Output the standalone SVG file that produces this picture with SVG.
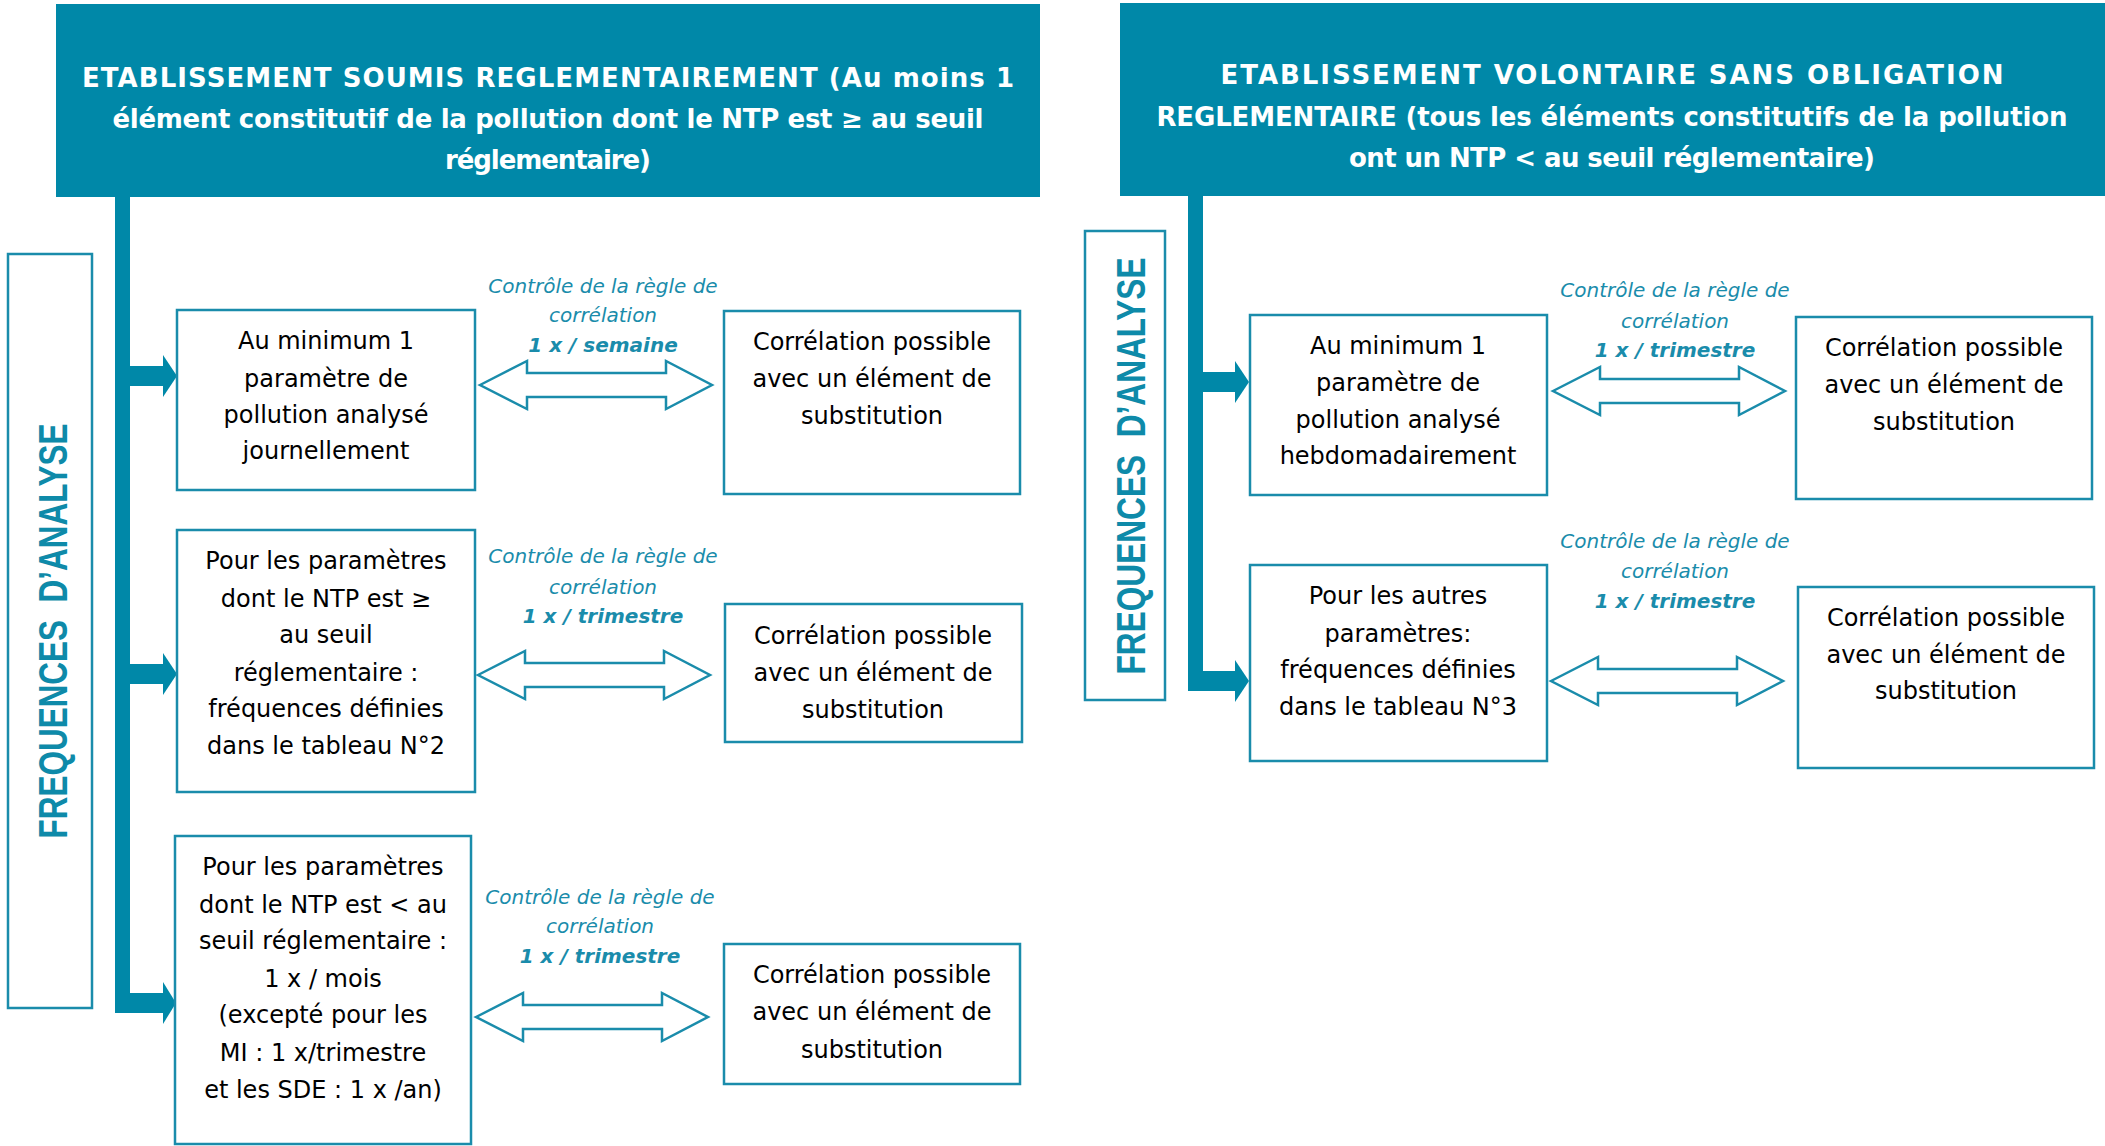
<svg xmlns="http://www.w3.org/2000/svg" width="2105" height="1146" viewBox="0 0 2105 1146">
<style>
.hdr{fill:#0088a8}
.hdrt{fill:#ffffff;font-family:"DejaVu Sans",sans-serif;font-weight:bold;font-size:26px;text-anchor:middle}
.box{fill:#ffffff;stroke:#1a8cab;stroke-width:2.5}
.bt{fill:#000000;font-family:"DejaVu Sans",sans-serif;font-size:24px;text-anchor:middle}
.lbl{fill:#1a8cab;font-family:"DejaVu Sans",sans-serif;font-style:italic;font-size:20px;text-anchor:middle}
.lblb{font-weight:bold}
.freq{fill:#0e8aa9;font-family:"Liberation Sans",Arial,sans-serif;font-weight:bold;font-size:40px;text-anchor:middle}
.bar{fill:#0088a8}
.dbl{fill:#ffffff;stroke:#1a8cab;stroke-width:2.5;stroke-linejoin:miter}
</style>
<defs>
<path id="dblarrow" d="M0,0 L47,-24 L47,-12 L186,-12 L186,-24 L232,0 L186,24 L186,12 L47,12 L47,24 Z"/>
</defs>
<rect width="2105" height="1146" fill="#ffffff"/>

<g id="header-left">
<rect class="hdr" x="56" y="4" width="984" height="193"/>
<text class="hdrt" x="548" y="87" textLength="932" lengthAdjust="spacing">ETABLISSEMENT SOUMIS REGLEMENTAIREMENT (Au moins 1</text>
<text class="hdrt" x="548" y="128" textLength="871" lengthAdjust="spacing">élément constitutif de la pollution dont le NTP est ≥ au seuil</text>
<text class="hdrt" x="548" y="169" textLength="206" lengthAdjust="spacing">réglementaire)</text>
</g>

<g id="header-right">
<rect class="hdr" x="1120" y="3" width="985" height="193"/>
<text class="hdrt" x="1612" y="84" textLength="783" lengthAdjust="spacing">ETABLISSEMENT VOLONTAIRE SANS OBLIGATION</text>
<text class="hdrt" x="1612" y="126" textLength="911" lengthAdjust="spacing">REGLEMENTAIRE (tous les éléments constitutifs de la pollution</text>
<text class="hdrt" x="1612" y="167" textLength="526" lengthAdjust="spacing">ont un NTP &lt; au seuil réglementaire)</text>
</g>

<g id="freq-left">
<rect class="box" x="8" y="254" width="84" height="754"/>
<text class="freq" transform="translate(67,631) rotate(-90)" textLength="415" lengthAdjust="spacingAndGlyphs">FREQUENCES&#160; D’ANALYSE</text>
</g>

<g id="freq-right">
<rect class="box" x="1085" y="231" width="80" height="469"/>
<text class="freq" transform="translate(1145,466) rotate(-90)" textLength="417" lengthAdjust="spacingAndGlyphs">FREQUENCES&#160; D’ANALYSE</text>
</g>

<g id="connectors">
<rect class="bar" x="115" y="197" width="15" height="816"/>
<rect class="bar" x="129" y="366" width="35" height="20"/>
<polygon class="bar" points="163,355 177,376 163,397"/>
<rect class="bar" x="129" y="664" width="35" height="20"/>
<polygon class="bar" points="163,653 177,674 163,695"/>
<rect class="bar" x="115" y="993" width="49" height="20"/>
<polygon class="bar" points="163,982 176,1003 163,1024"/>
<rect class="bar" x="1188" y="196" width="15" height="495"/>
<rect class="bar" x="1202" y="372" width="34" height="20"/>
<polygon class="bar" points="1235,361 1249,382 1235,403"/>
<rect class="bar" x="1188" y="671" width="48" height="20"/>
<polygon class="bar" points="1235,660 1249,681 1235,702"/>
<use href="#dblarrow" class="dbl" transform="translate(480,385)"/>
<use href="#dblarrow" class="dbl" transform="translate(478,675)"/>
<use href="#dblarrow" class="dbl" transform="translate(476,1017)"/>
<use href="#dblarrow" class="dbl" transform="translate(1553,391)"/>
<use href="#dblarrow" class="dbl" transform="translate(1551,681)"/>
<text class="lbl" x="603" y="293">Contrôle de la règle de</text>
<text class="lbl" x="603" y="322">corrélation</text>
<text class="lbl lblb" x="603" y="352">1 x / semaine</text>
<text class="lbl" x="603" y="563">Contrôle de la règle de</text>
<text class="lbl" x="603" y="594">corrélation</text>
<text class="lbl lblb" x="603" y="623">1 x / trimestre</text>
<text class="lbl" x="600" y="904">Contrôle de la règle de</text>
<text class="lbl" x="600" y="933">corrélation</text>
<text class="lbl lblb" x="600" y="963">1 x / trimestre</text>
<text class="lbl" x="1675" y="297">Contrôle de la règle de</text>
<text class="lbl" x="1675" y="328">corrélation</text>
<text class="lbl lblb" x="1675" y="357">1 x / trimestre</text>
<text class="lbl" x="1675" y="548">Contrôle de la règle de</text>
<text class="lbl" x="1675" y="578">corrélation</text>
<text class="lbl lblb" x="1675" y="608">1 x / trimestre</text>
</g>

<g id="box-l1">
<rect class="box" x="177" y="310" width="298" height="180"/>
<text class="bt" x="326" y="349">Au minimum 1</text>
<text class="bt" x="326" y="387">paramètre de</text>
<text class="bt" x="326" y="423">pollution analysé</text>
<text class="bt" x="326" y="459">journellement</text>
</g>
<g id="box-l2">
<rect class="box" x="177" y="530" width="298" height="262"/>
<text class="bt" x="326" y="569">Pour les paramètres</text>
<text class="bt" x="326" y="607">dont le NTP est ≥</text>
<text class="bt" x="326" y="643">au seuil</text>
<text class="bt" x="326" y="681">réglementaire :</text>
<text class="bt" x="326" y="717">fréquences définies</text>
<text class="bt" x="326" y="754">dans le tableau N°2</text>
</g>
<g id="box-l3">
<rect class="box" x="175" y="836" width="296" height="308"/>
<text class="bt" x="323" y="875">Pour les paramètres</text>
<text class="bt" x="323" y="913">dont le NTP est &lt; au</text>
<text class="bt" x="323" y="949">seuil réglementaire :</text>
<text class="bt" x="323" y="987">1 x / mois</text>
<text class="bt" x="323" y="1023">(excepté pour les</text>
<text class="bt" x="323" y="1061">MI : 1 x/trimestre</text>
<text class="bt" x="323" y="1098">et les SDE : 1 x /an)</text>
</g>
<g id="box-lr1">
<rect class="box" x="724" y="311" width="296" height="183"/>
<text class="bt" x="872" y="350">Corrélation possible</text>
<text class="bt" x="872" y="387">avec un élément de</text>
<text class="bt" x="872" y="424">substitution</text>
</g>
<g id="box-lr2">
<rect class="box" x="725" y="604" width="297" height="138"/>
<text class="bt" x="873" y="644">Corrélation possible</text>
<text class="bt" x="873" y="681">avec un élément de</text>
<text class="bt" x="873" y="718">substitution</text>
</g>
<g id="box-lr3">
<rect class="box" x="724" y="944" width="296" height="140"/>
<text class="bt" x="872" y="983">Corrélation possible</text>
<text class="bt" x="872" y="1020">avec un élément de</text>
<text class="bt" x="872" y="1058">substitution</text>
</g>
<g id="box-r1">
<rect class="box" x="1250" y="315" width="297" height="180"/>
<text class="bt" x="1398" y="354">Au minimum 1</text>
<text class="bt" x="1398" y="391">paramètre de</text>
<text class="bt" x="1398" y="428">pollution analysé</text>
<text class="bt" x="1398" y="464">hebdomadairement</text>
</g>
<g id="box-r2">
<rect class="box" x="1250" y="565" width="297" height="196"/>
<text class="bt" x="1398" y="604">Pour les autres</text>
<text class="bt" x="1398" y="642">paramètres:</text>
<text class="bt" x="1398" y="678">fréquences définies</text>
<text class="bt" x="1398" y="715">dans le tableau N°3</text>
</g>
<g id="box-rr1">
<rect class="box" x="1796" y="317" width="296" height="182"/>
<text class="bt" x="1944" y="356">Corrélation possible</text>
<text class="bt" x="1944" y="393">avec un élément de</text>
<text class="bt" x="1944" y="430">substitution</text>
</g>
<g id="box-rr2">
<rect class="box" x="1798" y="587" width="296" height="181"/>
<text class="bt" x="1946" y="626">Corrélation possible</text>
<text class="bt" x="1946" y="663">avec un élément de</text>
<text class="bt" x="1946" y="699">substitution</text>
</g>
</svg>
